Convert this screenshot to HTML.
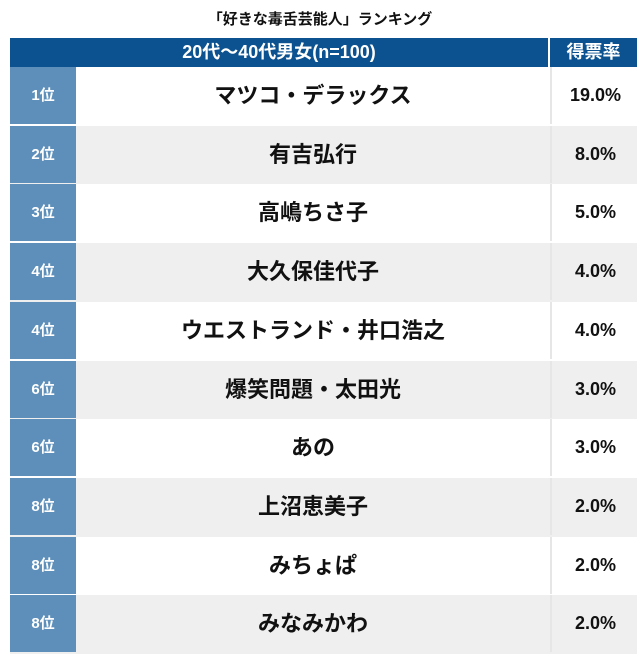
<!DOCTYPE html><html><head><meta charset="utf-8"><style>
body{margin:0;width:640px;height:671px;background:#fff;font-family:"Liberation Sans","Noto Sans CJK JP",sans-serif;font-weight:bold;position:relative;overflow:hidden}
.t{position:absolute;top:8px;left:0;width:640px;text-align:center;font-size:15px;color:#111}
.h{position:absolute;top:38px;height:29px;background:#0d5290;color:#fff;font-size:18px;line-height:29px;text-align:center}
.r{position:absolute;left:10px;width:627px;height:58.7px}
.r div{position:absolute;top:0;height:57px;line-height:57px;text-align:center;color:#111}
.k{left:0;width:66px;background:#5d8fba;color:#fff!important;font-size:15px}
.n{left:68px;width:470px;font-size:22px}
.p{left:540px;width:87px;font-size:18px;border-left:2px solid #e6e6e6}
</style></head><body>
<div class="t">「好きな毒舌芸能人」ランキング</div>
<div class="h" style="left:10px;width:538px">20代〜40代男女(n=100)</div>
<div class="h" style="left:550px;width:87px">得票率</div>
<div class="r" style="top:67px"><div class="k">1位</div><div class="n">マツコ・デラックス</div><div class="p">19.0%</div></div>
<div class="r" style="top:125.7px;background:#efefef"><div class="k">2位</div><div class="n">有吉弘行</div><div class="p">8.0%</div></div>
<div class="r" style="top:184.4px"><div class="k">3位</div><div class="n">高嶋ちさ子</div><div class="p">5.0%</div></div>
<div class="r" style="top:243.1px;background:#efefef"><div class="k">4位</div><div class="n">大久保佳代子</div><div class="p">4.0%</div></div>
<div class="r" style="top:301.8px"><div class="k">4位</div><div class="n">ウエストランド・井口浩之</div><div class="p">4.0%</div></div>
<div class="r" style="top:360.5px;background:#efefef"><div class="k">6位</div><div class="n">爆笑問題・太田光</div><div class="p">3.0%</div></div>
<div class="r" style="top:419.2px"><div class="k">6位</div><div class="n">あの</div><div class="p">3.0%</div></div>
<div class="r" style="top:477.9px;background:#efefef"><div class="k">8位</div><div class="n">上沼恵美子</div><div class="p">2.0%</div></div>
<div class="r" style="top:536.6px"><div class="k">8位</div><div class="n">みちょぱ</div><div class="p">2.0%</div></div>
<div class="r" style="top:595.3px;background:#efefef"><div class="k">8位</div><div class="n">みなみかわ</div><div class="p">2.0%</div></div>
</body></html>
